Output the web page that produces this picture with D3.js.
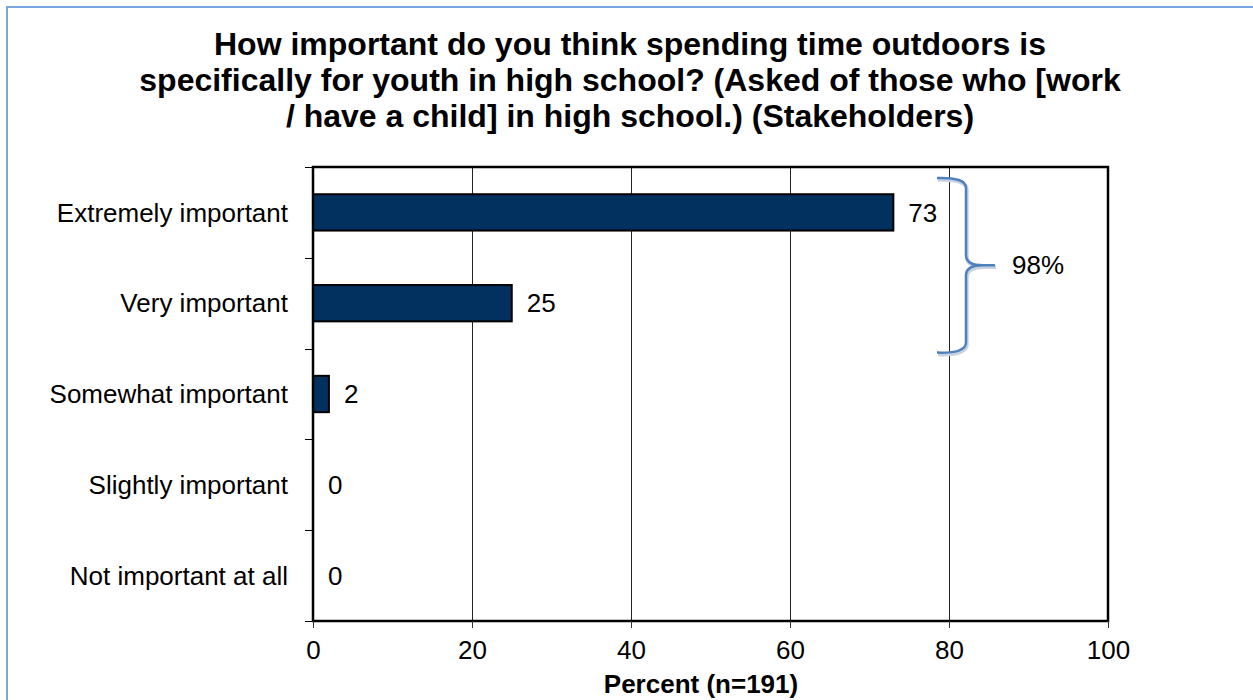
<!DOCTYPE html>
<html>
<head>
<meta charset="utf-8">
<script src="https://cdn.jsdelivr.net/npm/d3@7"></script>
<style>
  html, body { margin: 0; padding: 0; background: #fff; }
  svg { display: block; font-family: "Liberation Sans", Arial, sans-serif; }
</style>
</head>
<body>
<svg id="chart" width="1253" height="700"></svg>
<script>
const titleLines = [
  "How important do you think spending time outdoors is",
  "specifically for youth in high school? (Asked of those who [work",
  "/ have a child] in high school.) (Stakeholders)"
];
const categories = ["Extremely important", "Very important", "Somewhat important", "Slightly important", "Not important at all"];
const values = [73, 25, 2, 0, 0];
const xTicks = [0, 20, 40, 60, 80, 100];
const xAxisTitle = "Percent (n=191)";
const bracketCats = ["Extremely important", "Very important"];
const bracketLabel = "98%";

const svg = d3.select("#chart");
const W = 1253, H = 700;
const m = { left: 313, right: 1108, top: 167, bottom: 621 };

// outer frame
svg.append("rect").attr("x", 7).attr("y", 7).attr("width", W + 10).attr("height", H + 10)
  .attr("fill", "#fff").attr("stroke", "#79A5E0").attr("stroke-width", 2);

// title
svg.append("text").attr("text-anchor", "middle").attr("font-weight", "bold")
  .attr("font-size", 32).attr("fill", "#000")
  .selectAll("tspan").data(titleLines).join("tspan")
  .attr("x", 630).attr("y", (d, i) => 55 + i * 36).text(d => d);

const x = d3.scaleLinear().domain([0, 100]).range([m.left, m.right]);
const y = d3.scaleBand().domain(categories).range([m.top, m.bottom]).paddingInner(0.6).paddingOuter(0.3);
const yb = d3.scaleBand().domain(categories).range([m.top, m.bottom]);

// gridlines
svg.append("g").selectAll("line").data(xTicks.filter(t => t > 0 && t < 100)).join("line")
  .attr("x1", d => Math.round(x(d)) + 0.5).attr("x2", d => Math.round(x(d)) + 0.5)
  .attr("y1", m.top).attr("y2", m.bottom)
  .attr("stroke", "#222").attr("stroke-width", 1);

// bars
svg.append("g").selectAll("rect").data(values).join("rect")
  .attr("x", x(0)).attr("y", (d, i) => y(categories[i]))
  .attr("width", d => x(d) - x(0)).attr("height", y.bandwidth())
  .attr("fill", "#02305F").attr("stroke", "#000").attr("stroke-width", 2)
  .attr("display", d => d > 0 ? null : "none");

// plot frame
svg.append("rect").attr("x", m.left).attr("y", m.top)
  .attr("width", m.right - m.left).attr("height", m.bottom - m.top)
  .attr("fill", "none").attr("stroke", "#000").attr("stroke-width", 2.5);

// y axis ticks (category boundaries)
const yBounds = categories.map(c => yb(c)).concat([m.bottom]);
svg.append("g").selectAll("line").data(yBounds).join("line")
  .attr("x1", m.left - 8).attr("x2", m.left).attr("y1", d => Math.round(d) + 0.5).attr("y2", d => Math.round(d) + 0.5)
  .attr("stroke", "#000").attr("stroke-width", 1);

// x axis
const xAxis = d3.axisBottom(x).tickValues(xTicks).tickSize(7).tickPadding(13).tickFormat(d3.format("d"));
const gx = svg.append("g").attr("transform", `translate(0,${m.bottom})`).call(xAxis);
gx.select(".domain").remove();
gx.selectAll(".tick line").attr("stroke", "#333").attr("stroke-width", 1);
gx.selectAll(".tick text").attr("font-size", 26).attr("fill", "#000")
  .attr("font-family", "'Liberation Sans', Arial, sans-serif");

// category labels
svg.append("g").selectAll("text").data(categories).join("text")
  .attr("x", 288).attr("y", d => yb(d) + yb.bandwidth() / 2).attr("dy", "0.35em")
  .attr("text-anchor", "end").attr("font-size", 26).attr("fill", "#000").text(d => d);

// value labels
svg.append("g").selectAll("text").data(values).join("text")
  .attr("x", d => x(d) + 15).attr("y", (d, i) => yb(categories[i]) + yb.bandwidth() / 2).attr("dy", "0.35em")
  .attr("font-size", 26).attr("fill", "#000").text(d => d);

// x axis title
svg.append("text").attr("x", 701).attr("y", 693)
  .attr("text-anchor", "middle").attr("font-weight", "bold").attr("font-size", 26)
  .attr("fill", "#000").text(xAxisTitle);

// bracket
const bTop = yb(bracketCats[0]) + 11;
const bBot = yb(bracketCats[1]) + yb.bandwidth() + 4;
const bMid = (bTop + bBot) / 2;
const bx0 = x(80) - 12, bx1 = x(80) + 17, bx2 = x(80) + 46;
const r = 10;
const p = d3.path();
p.moveTo(bx0, bTop);
p.quadraticCurveTo(bx1, bTop - 1, bx1, bTop + r);
p.lineTo(bx1, bMid - r);
p.quadraticCurveTo(bx1, bMid, bx2 - 12, bMid);
p.lineTo(bx2, bMid);
p.moveTo(bx2 - 12, bMid);
p.quadraticCurveTo(bx1, bMid, bx1, bMid + r);
p.lineTo(bx1, bBot - r);
p.quadraticCurveTo(bx1, bBot + 1, bx0, bBot);
svg.append("path").attr("d", p.toString()).attr("fill", "none")
  .attr("stroke", "#c9d3e0").attr("stroke-width", 3.5).attr("transform", "translate(1,2)");
svg.append("path").attr("d", p.toString()).attr("fill", "none")
  .attr("stroke", "#4F81BD").attr("stroke-width", 2.5);
svg.append("text").attr("x", bx2 + 17).attr("y", bMid).attr("dy", "0.35em")
  .attr("font-size", 26).attr("fill", "#000").text(bracketLabel);
</script>
</body>
</html>
